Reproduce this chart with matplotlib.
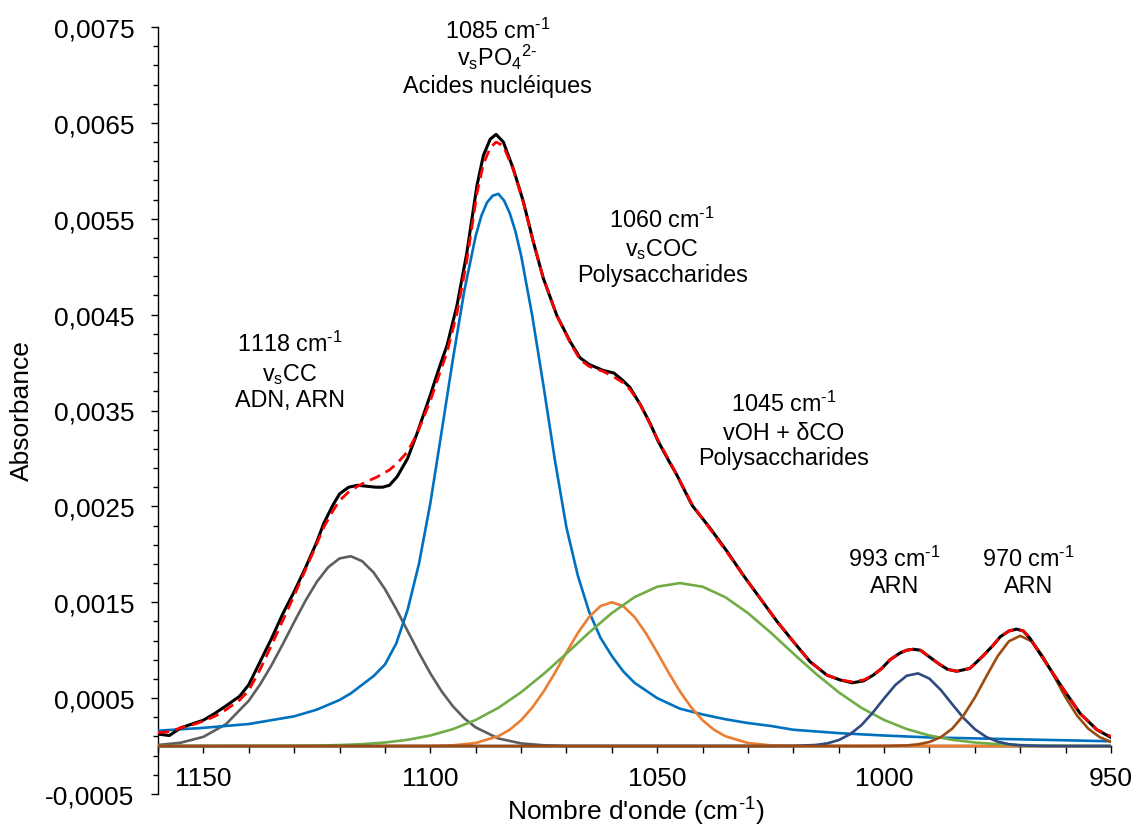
import matplotlib
matplotlib.use("Agg")
import matplotlib.pyplot as plt
from matplotlib.ticker import FixedLocator, FuncFormatter, MultipleLocator

plt.rcParams['font.family'] = ['Liberation Sans', 'DejaVu Sans']
plt.rcParams['mathtext.fontset'] = 'custom'
plt.rcParams['mathtext.rm'] = 'Liberation Sans'
plt.rcParams['mathtext.it'] = 'Liberation Sans:italic'
plt.rcParams['mathtext.bf'] = 'Liberation Sans:bold'

# ---------------- data ----------------
x_total = [1160, 1157.5, 1155, 1152.5, 1150, 1147.5, 1145, 1142, 1140, 1137.5, 1135, 1132.5,
           1130, 1127.5, 1125, 1123.5, 1121.5, 1120, 1118, 1116, 1114, 1112, 1110.5, 1109,
           1107.3, 1105, 1103, 1100, 1098, 1096.3, 1094.1, 1092, 1089.7, 1088.3, 1086.8,
           1085.5, 1083.9, 1081.7, 1079.5, 1077.3, 1075.1, 1072.1, 1069.2, 1067, 1065, 1062,
           1059.5, 1057.5, 1056, 1053.7, 1051.5, 1049.8, 1047.5, 1045.7, 1042.3, 1038.3,
           1034.6, 1031, 1027.3, 1023.6, 1020, 1016.3, 1012.6, 1009.7, 1007, 1004.5, 1002.4,
           1000.5, 998.7, 996.5, 995, 993.6, 992, 990.6, 987.7, 986, 984, 981.1, 978.2, 976,
           974.4, 972.5, 970.8, 969.3, 967.8, 964.2, 960.6, 956.8, 953.1, 950]
y_total = [0.000125, 0.00011, 0.00019, 0.00023, 0.00027, 0.00034, 0.00042, 0.00052, 0.00064,
           0.00088, 0.00112, 0.00138, 0.00161, 0.00186, 0.00213, 0.00232, 0.00251, 0.00263,
           0.0027, 0.00272, 0.00271, 0.0027, 0.0027, 0.00272, 0.00281, 0.003, 0.00325, 0.00366,
           0.00395, 0.00418, 0.0046, 0.00513, 0.00585, 0.00616, 0.00633, 0.00638, 0.0063,
           0.00602, 0.00568, 0.00526, 0.00488, 0.00449, 0.00422, 0.00405, 0.00398, 0.00392,
           0.00389, 0.00381, 0.00374, 0.00356, 0.00336, 0.00318, 0.00298, 0.00283, 0.00251,
           0.00227, 0.00203, 0.00178, 0.00154, 0.0013, 0.00109, 0.00088, 0.00074, 0.00069,
           0.00066, 0.00068, 0.00074, 0.00081, 0.0009, 0.00097, 0.001, 0.00101, 0.001, 0.00095,
           0.00085, 0.0008, 0.00078, 0.00081, 0.00094, 0.00105, 0.00114, 0.0012, 0.00122,
           0.0012, 0.00112, 0.00086, 0.0006, 0.00034, 0.00017, 0.00009]
y_fit = [0.00014, 0.00015, 0.00019, 0.00022, 0.00026, 0.00031, 0.00038, 0.00048, 0.00058,
         0.0008, 0.00105, 0.00131, 0.00157, 0.00184, 0.00211, 0.00228, 0.00245, 0.00256,
         0.00265, 0.00271, 0.00276, 0.0028, 0.00284, 0.00288, 0.00295, 0.00307, 0.00325, 0.0036,
         0.00388, 0.00411, 0.00452, 0.00505, 0.00577, 0.00607, 0.00624, 0.0063, 0.00626,
         0.00601, 0.00567, 0.00526, 0.00488, 0.00449, 0.00421, 0.00403, 0.00396, 0.00391,
         0.00385, 0.00379, 0.00372, 0.00356, 0.00335, 0.00319, 0.00299, 0.00283, 0.00252,
         0.00226, 0.00202, 0.00178, 0.00154, 0.0013, 0.00109, 0.00088, 0.00074, 0.00069,
         0.00067, 0.00069, 0.00074, 0.00081, 0.0009, 0.00097, 0.001, 0.00101, 0.001, 0.00095,
         0.00085, 0.0008, 0.00078, 0.00081, 0.00094, 0.00105, 0.00114, 0.0012, 0.00122,
         0.0012, 0.00112, 0.00086, 0.0006, 0.00034, 0.00017, 0.0001]

x_1118 = [1160, 1155, 1150, 1145, 1140, 1137.5, 1135, 1132.5, 1130, 1127.5, 1125, 1122.5, 1120,
          1117.5, 1115, 1112.5, 1110, 1107.5, 1105, 1102.5, 1100, 1097.5, 1095, 1092.5, 1090,
          1085, 1080, 1075, 1070, 950]
y_1118 = [0.000011, 0.000035, 0.000096, 0.000229, 0.000473, 0.000643, 0.000842, 0.001063,
          0.001293, 0.001516, 0.001713, 0.001865, 0.001957, 0.00198, 0.001928, 0.001811,
          0.001638, 0.001429, 0.001201, 0.000973, 0.000759, 0.000571, 0.000414, 0.000289,
          0.000195, 0.000079, 0.000028, 0.000008, 0.000002, 0.0]

x_1085 = [1160, 1155, 1150, 1145, 1140, 1135, 1130, 1125, 1120, 1117.5, 1115, 1112.5, 1110,
          1107.5, 1105, 1102.5, 1100, 1097.5, 1095, 1092.5, 1090, 1088.75, 1087.5, 1086.25,
          1085, 1083.75, 1082.5, 1081.25, 1080,
          1077.5, 1075, 1072.5, 1070, 1067.5, 1065, 1062.5, 1060, 1057.5, 1055, 1050, 1045,
          1040, 1035, 1030, 1025, 1020, 1010, 1000, 990, 980, 970, 960, 950]
y_1085 = [0.00016, 0.000175, 0.00019, 0.00021, 0.00023, 0.00027, 0.00031, 0.00038, 0.00048,
          0.00055, 0.00064, 0.00073, 0.00085, 0.00107, 0.00142, 0.0019, 0.00253, 0.00328,
          0.00404, 0.00475, 0.00532, 0.00553, 0.00567, 0.00574, 0.00576, 0.00569, 0.00556,
          0.00537, 0.00512, 0.00448, 0.00374,
          0.00297, 0.00228, 0.00178, 0.0014, 0.00113, 0.00094, 0.00078, 0.00066, 0.0005,
          0.00039, 0.00033, 0.00028, 0.00024, 0.00021, 0.00017, 0.000135, 0.00011, 0.00009,
          0.00008, 0.00007, 0.00006, 0.00005]

x_1060 = [1160, 1100, 1095, 1090, 1085, 1082.5, 1080, 1077.5, 1075, 1072.5, 1070, 1067.5, 1065,
          1062.5, 1060, 1057.5, 1055, 1052.5, 1050, 1047.5, 1045, 1042.5, 1040, 1037.5, 1035,
          1030, 1025, 1020, 950]
y_1060 = [0.0, 0.0000015, 0.0000075, 0.000032, 0.000103, 0.000171, 0.000269, 0.000403,
          0.000571, 0.000767, 0.000977, 0.001178, 0.001347, 0.00146, 0.0015, 0.00146, 0.001347,
          0.001178, 0.000977, 0.000767, 0.000571, 0.000403, 0.000269, 0.000171, 0.000103,
          0.000032, 0.0000075, 0.0000015, 0.0]

x_1045 = [1160, 1130, 1125, 1120, 1115, 1110, 1105, 1100, 1095, 1090, 1085, 1080, 1075, 1070,
          1065, 1060, 1055, 1050, 1045, 1040, 1035, 1030, 1025, 1020, 1015, 1010, 1005, 1000,
          995, 990, 985, 980, 975, 970, 965, 960, 950]
y_1045 = [0.0, 0.0000024, 0.0000052, 0.0000104, 0.0000201, 0.0000371, 0.0000653, 0.00011,
          0.000177, 0.000272, 0.000399, 0.000561, 0.000753, 0.000965, 0.001184, 0.001387,
          0.001553, 0.001662, 0.0017, 0.001662, 0.001553, 0.001387, 0.001184, 0.000965,
          0.000753, 0.000561, 0.000399, 0.000272, 0.000177, 0.00011, 0.0000653, 0.0000371,
          0.0000201, 0.0000104, 0.0000052, 0.0000024, 0.0]

x_993 = [1160, 1025, 1020, 1015, 1012.5, 1010, 1007.5, 1005, 1002.5, 1000, 997.5, 995, 992.5,
         990, 987.5, 985, 982.5, 980, 977.5, 975, 972.5, 970, 965, 960, 950]
y_993 = [0.0, 0.0, 0.0000014, 0.0000115, 0.0000283, 0.0000623, 0.000123, 0.000218, 0.000348,
         0.000497, 0.000638, 0.000734, 0.000758, 0.000703, 0.000585, 0.000437, 0.000293,
         0.000176, 0.0000949, 0.000046, 0.00002, 0.0000078, 0.0000008, 0.0, 0.0]

x_970 = [1160, 1005, 1000, 995, 992.5, 990, 987.5, 985, 982.5, 980, 977.5, 975, 972.5, 970,
         967.5, 965, 962.5, 960, 957.5, 955, 952.5, 950]
y_970 = [0.0, 0.0, 0.0000007, 0.0000068, 0.000018, 0.000043, 0.000093, 0.000181, 0.000319,
         0.000506, 0.000724, 0.000936, 0.001093, 0.00115, 0.001093, 0.000936, 0.000724,
         0.000506, 0.000319, 0.000181, 0.000093, 0.000043]

y_ticks = [-0.0005, 0.0005, 0.0015, 0.0025, 0.0035, 0.0045, 0.0055, 0.0065, 0.0075]
x_ticks = [1150, 1100, 1050, 1000, 950]

SUP = "$^\\text{-1}$"
annotations = [
    (1085.2, [("1085 cm" + SUP, 0.00739),
              ("v$_\\mathregular{s}$PO$_\\mathregular{4}$$^\\text{2-}$", 0.007105),
              ("Acides nucléiques", 0.00682)]),
    (1048.9, [("1060 cm" + SUP, 0.00542),
              ("v$_\\mathregular{s}$COC", 0.00512),
              ("Polysaccharides", 0.00485)]),
    (1130.9, [("1118 cm" + SUP, 0.004122),
              ("v$_\\mathregular{s}$CC", 0.003816),
              ("ADN, ARN", 0.003549)]),
    (1022.1, [("1045 cm" + SUP, 0.003494),
              ("vOH + δCO", 0.003206),
              ("Polysaccharides", 0.002939)]),
    (997.8, [("993 cm" + SUP, 0.001876), ("ARN", 0.001611)]),
    (968.2, [("970 cm" + SUP, 0.001876), ("ARN", 0.001611)]),
]

# ---------------- figure ----------------
fig = plt.figure(figsize=(11.35, 8.29), dpi=100)
ax = fig.add_axes([158 / 1135, 1 - 795 / 829, (1111 - 158) / 1135, (795 - 28) / 829])

lw = 1.9
comp = [
    (x_1118, y_1118, '#5E5E5E'),
    (x_1085, y_1085, '#0070C0'),
    (x_1060, y_1060, '#ED7D31'),
    (x_1045, y_1045, '#70AD47'),
    (x_993, y_993, '#2F4A80'),
    (x_970, y_970, '#9E4B12'),
]
for xs, ys, c in comp:
    ax.plot(xs, ys, color=c, lw=lw, zorder=3, solid_joinstyle='round')
ax.plot(x_total, y_total, color='black', lw=2.2, zorder=4, solid_joinstyle='round')
ax.plot(x_total, y_fit, color='#FF0000', lw=2.0, ls=(0, (4, 2.3)), zorder=5)

ax.set_xlim(1160, 950)
ax.set_ylim(-0.0005, 0.0075)

for s in ['top', 'right']:
    ax.spines[s].set_visible(False)
ax.spines['bottom'].set_position(('data', 0))
for s in ['left', 'bottom']:
    ax.spines[s].set_linewidth(1.0)

ax.yaxis.set_major_locator(FixedLocator(y_ticks))
ax.yaxis.set_minor_locator(MultipleLocator(0.0002, offset=0.0001))
ax.yaxis.set_major_formatter(FuncFormatter(lambda v, p: f"{v:.4f}".replace('.', ',')))
ax.xaxis.set_major_locator(FixedLocator(x_ticks))
ax.xaxis.set_minor_locator(MultipleLocator(10))
ax.xaxis.set_major_formatter(FuncFormatter(lambda v, p: f"{v:.0f}"))

ax.tick_params(axis='y', which='major', direction='out', length=5, width=1.0, pad=12, labelsize=19)
ax.tick_params(axis='y', which='minor', direction='out', length=3.5, width=1.0)
ax.tick_params(axis='x', which='both', direction='out', length=5, width=1.0)
ax.tick_params(axis='x', which='major', pad=9, labelsize=19)

fig.text(22 / 1135, 1 - 411 / 829, 'Absorbance', rotation=90, ha='center', va='center', fontsize=19)
fig.text(636 / 1135, 1 - 812 / 829, "Nombre d'onde (cm" + SUP + ")", ha='center', va='center',
         fontsize=19)

for xc, lines in annotations:
    for txt, yb in lines:
        ax.text(xc, yb, txt, ha='center', va='baseline', fontsize=16.8, clip_on=False)

fig.savefig('out.png', dpi=100)
